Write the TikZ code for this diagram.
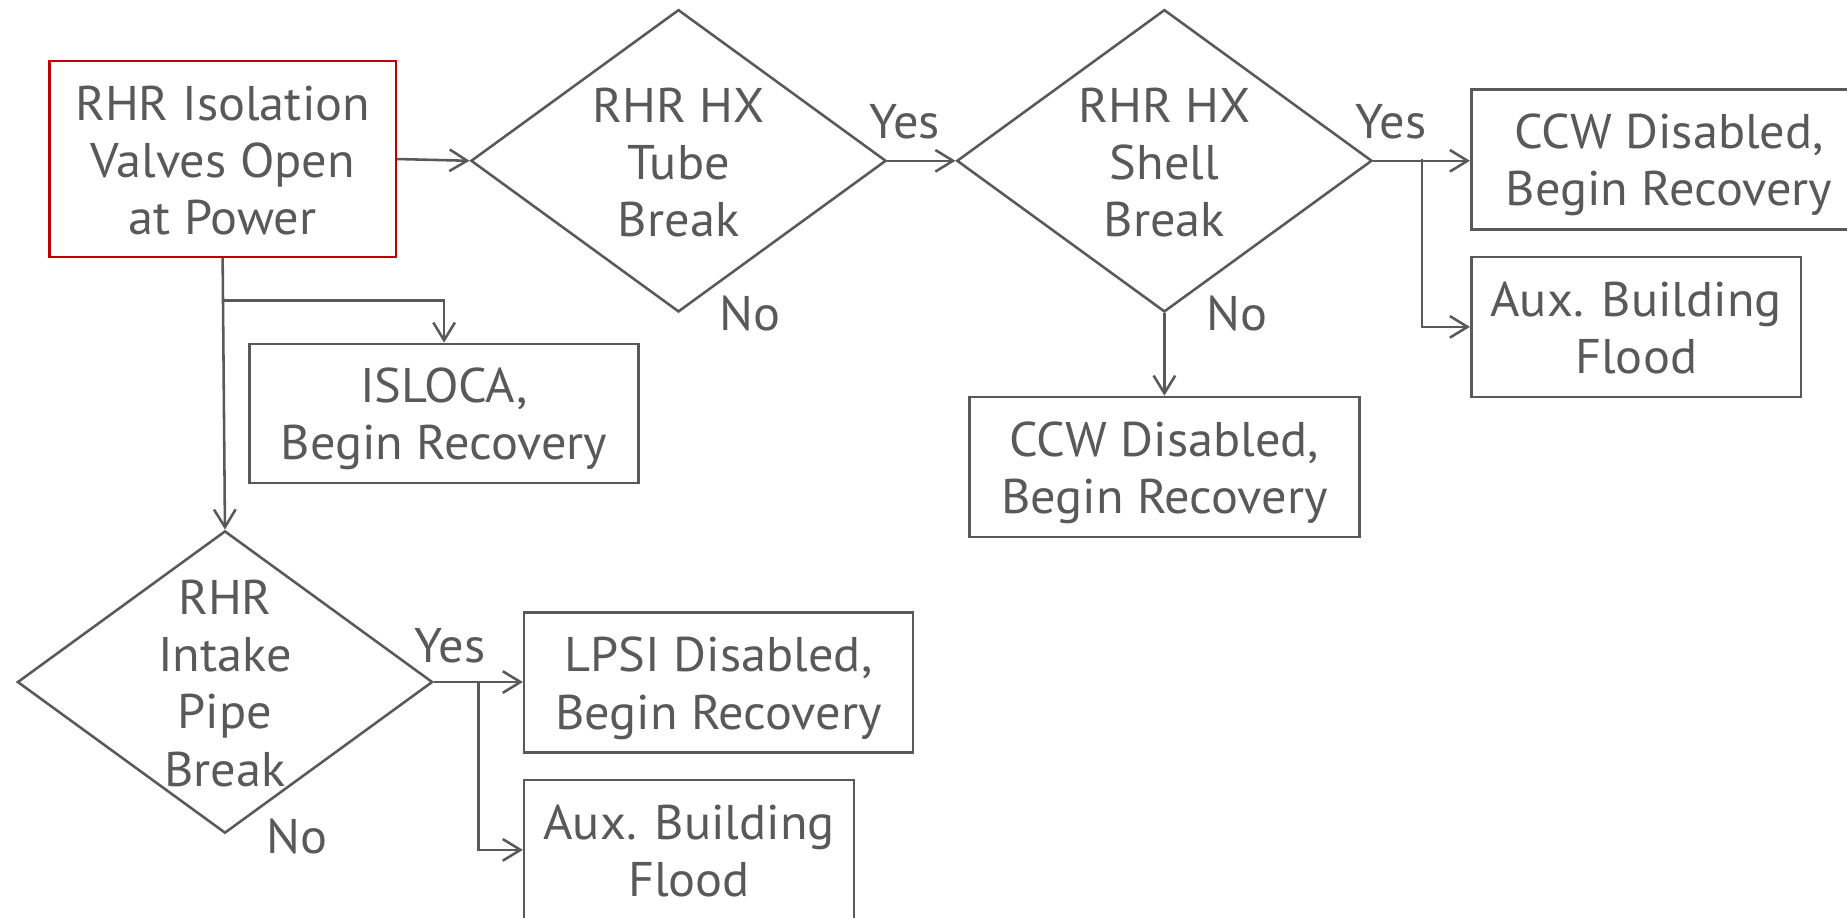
\documentclass[tikz,border=0pt]{standalone}
\usepackage{fontspec}
\setmainfont{PT Sans}[FakeStretch=1.035]
\usetikzlibrary{shapes.geometric,arrows.meta}
\definecolor{ink}{HTML}{595959}
\definecolor{redline}{HTML}{C00000}
\newcommand{\ls}{\rule[-4.7pt]{0pt}{28.1pt}}
\begin{document}
\begin{tikzpicture}[x=0.6pt,y=-0.6pt,
  every node/.style={text=ink, font=\fontsize{24.8}{29.1}\selectfont, align=center},
  box/.style={draw=ink, line width=1.3pt, rectangle, inner sep=0pt, minimum height=71.4pt},
  startbox/.style={draw=redline, line width=1.2pt, rectangle, inner sep=0pt, minimum width=176.4pt, minimum height=99.6pt},
  dia/.style={draw=ink, line width=1.3pt, diamond, inner sep=0pt, minimum width=211.5pt, minimum height=154pt},
  lbl/.style={inner sep=0pt},
  conn/.style={draw=ink, line width=1.3pt},
  arr/.style={conn, -{Straight Barb[length=9pt,width=11pt,line width=1.3pt]}}
]
\useasboundingbox (0,0) rectangle (1568,779);

% nodes
\node[startbox] (start) at (189,135) {\ls RHR Isolation\\\ls Valves Open\\\ls at Power};
\node[dia] (tube) at (576,136.5) {};
\node[lbl] (tubetxt) at (tube.center) {\ls RHR HX\\\ls Tube\\\ls Break};
\node[dia] (shell) at (988.5,136.5) {};
\node[lbl] (shelltxt) at (shell.center) {\ls RHR HX\\\ls Shell\\\ls Break};
\node[box, minimum width=201.6pt] (ccwa) at (1417,135.5) {\ls CCW Disabled,\\\ls Begin Recovery};
\node[box, minimum width=168pt] (auxa) at (1389,277.5) {\ls Aux. Building\\\ls Flood};
\node[box, minimum width=198.6pt] (ccwb) at (988.5,396.5) {\ls CCW Disabled,\\\ls Begin Recovery};
\node[box, minimum width=198pt, minimum height=70.8pt] (isloca) at (377,351) {\ls ISLOCA,\\\ls Begin Recovery};
\node[dia] (intake) at (191,579) {};
\node[lbl] (intaketxt) at (intake.center) {\ls RHR\\\ls Intake\\\ls Pipe\\\ls Break};
\node[box, minimum width=198pt] (lpsi) at (610,579.5) {\ls LPSI Disabled,\\\ls Begin Recovery};
\node[box, minimum width=168pt] (auxb) at (585,721.5) {\ls Aux. Building\\\ls Flood};

% labels
\node[lbl] (yes1) at (768,103) {Yes};
\node[lbl] (no1) at (637,266) {No};
\node[lbl] (yes2) at (1181,103) {Yes};
\node[lbl] (no2) at (1050,266) {No};
\node[lbl] (yes3) at (382,548) {Yes};
\node[lbl] (no3) at (252,710) {No};

% junctions
\coordinate (j1) at (1207,135);
\coordinate (j2) at (189,255);
\coordinate (j3) at (406,579);

% connectors
\draw[arr] (start.east) -- (tube.west);
\draw[arr] (tube.east) -- (shell.west);
\draw[arr] (shell.east) -- (ccwa.west |- shell.east);
\draw[arr] (j1) |- (auxa.west);
\draw[arr] (shell.south) -- (ccwb.north);
\draw[arr] (start.south) -- (intake.north);
\draw[arr] (j2) -| (isloca.north);
\draw[arr] (intake.east) -- (lpsi.west |- intake.east);
\draw[arr] (j3) |- (auxb.west);
\end{tikzpicture}
\end{document}
